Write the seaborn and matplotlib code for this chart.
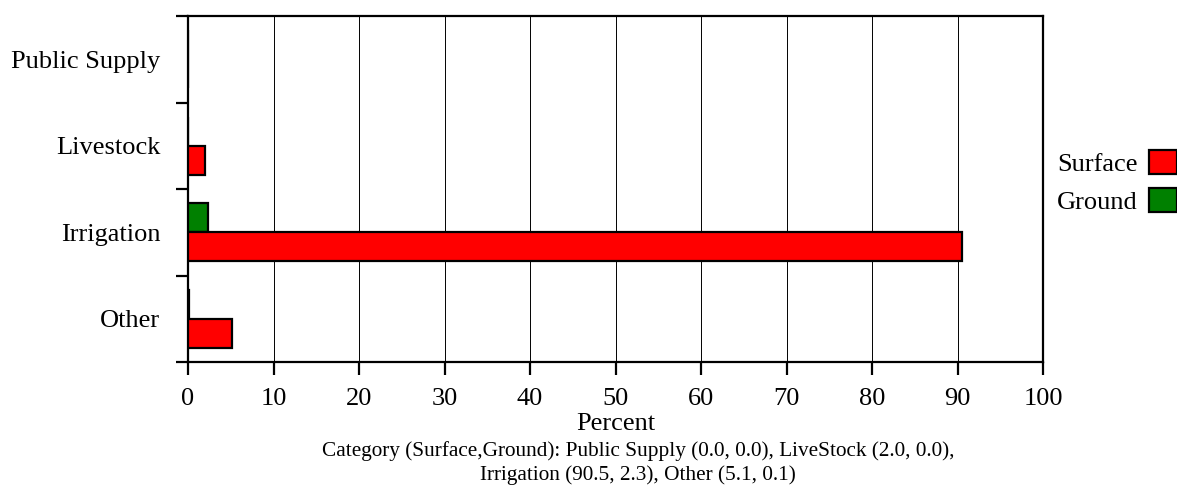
import matplotlib
matplotlib.use('Agg')
import matplotlib.pyplot as plt
from matplotlib.patches import Patch
import seaborn as sns
import pandas as pd

categories = ['Public Supply', 'Livestock', 'Irrigation', 'Other']
surface = [0.0, 2.0, 90.5, 5.1]
ground = [0.0, 0.0, 2.3, 0.1]
x_ticks = [0, 10, 20, 30, 40, 50, 60, 70, 80, 90, 100]
caption = ('Category (Surface,Ground): Public Supply (0.0, 0.0), LiveStock (2.0, 0.0),\n'
           'Irrigation (90.5, 2.3), Other (5.1, 0.1)')

colors = {'Surface': '#ff0000', 'Ground': '#008000'}


def main():
    sns.set_style('white')
    plt.rcParams['font.family'] = ['Liberation Serif', 'DejaVu Serif']
    plt.rcParams['text.color'] = 'black'
    plt.rcParams['axes.labelcolor'] = 'black'
    plt.rcParams['xtick.color'] = 'black'
    plt.rcParams['ytick.color'] = 'black'

    df = pd.DataFrame({
        'category': categories * 2,
        'percent': surface + ground,
        'source': ['Surface'] * len(categories) + ['Ground'] * len(categories),
    })

    fig = plt.figure(figsize=(11.77, 4.91), dpi=100)
    ax = fig.add_axes([188 / 1177, 1 - 362 / 491, (1043 - 188) / 1177, (362 - 16) / 491])

    # ground first so it sits above surface in each band
    sns.barplot(data=df, y='category', x='percent', hue='source',
                order=categories, hue_order=['Ground', 'Surface'],
                palette=colors, saturation=1, width=2 / 3, orient='h',
                edgecolor='black', linewidth=1.6, legend=False, ax=ax, zorder=3)

    ax.set_xlim(0, 100)
    ax.set_ylim(len(categories) - 0.5, -0.5)
    ax.set_xticks(x_ticks)
    ax.set_xticklabels([str(t) for t in x_ticks], fontsize=19)
    ax.set_yticks(range(len(categories)))
    ax.set_yticklabels(categories, fontsize=19)
    ax.set_yticks([i - 0.5 for i in range(len(categories) + 1)], minor=True)
    ax.tick_params(axis='both', which='both', left=True, bottom=True, labelcolor='black')
    ax.tick_params(axis='y', which='major', length=0, pad=20)
    ax.tick_params(axis='y', which='minor', length=9, width=1.6, color='black')
    ax.tick_params(axis='x', which='major', length=9, width=1.6, color='black', pad=10)
    for t in x_ticks[1:-1]:
        ax.axvline(t, color='black', lw=0.7, zorder=1)
    for s in ax.spines.values():
        s.set_visible(True)
        s.set_color('black')
        s.set_linewidth(1.6)
    ax.set_ylabel('')
    ax.set_xlabel('Percent', fontsize=19, labelpad=2, color='black')

    fig.text(638 / 1177, 1 - 463 / 491, caption, ha='center', va='center',
             fontsize=15.3, linespacing=1.3, color='black')

    handles = [Patch(facecolor=colors['Surface'], edgecolor='black', lw=1.6, label='Surface'),
               Patch(facecolor=colors['Ground'], edgecolor='black', lw=1.6, label='Ground')]
    fig.legend(handles=handles, loc='center right', bbox_to_anchor=(1.0, 1 - 182 / 491),
               frameon=False, markerfirst=False, fontsize=19, handlelength=1.05,
               handleheight=1.05, handletextpad=0.45, labelspacing=0.45, borderpad=0,
               borderaxespad=0, labelcolor='black')

    fig.savefig('out.png', dpi=100)


if __name__ == '__main__':
    main()
